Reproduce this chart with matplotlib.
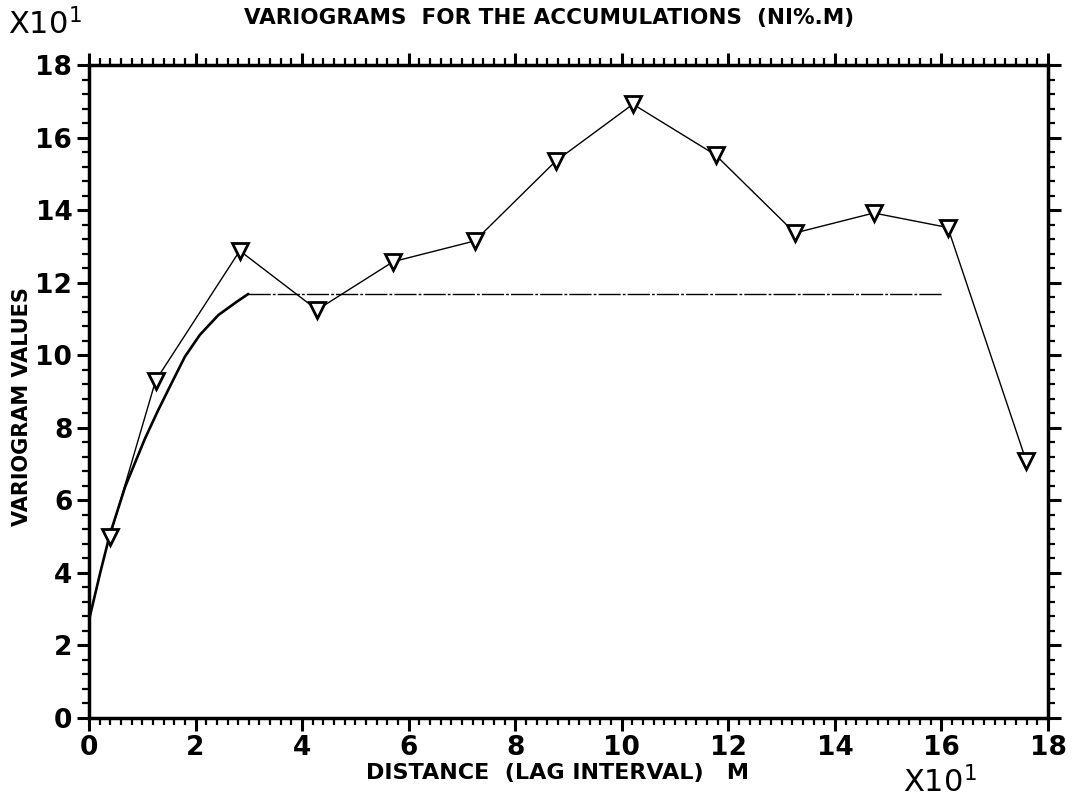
import matplotlib
matplotlib.use('Agg')
import matplotlib.pyplot as plt
from matplotlib.ticker import MultipleLocator

# Experimental variogram (units of x10)
lag = [0.39, 1.25, 2.83, 4.28, 5.71, 7.24, 8.76, 10.21, 11.76, 13.25, 14.73, 16.12, 17.59]
gamma = [4.99, 9.30, 12.88, 11.25, 12.58, 13.15, 15.35, 16.92, 15.52, 13.37, 13.92, 13.52, 7.09]

# Fitted model curve
model_x = [0.0, 0.21, 0.39, 0.68, 1.05, 1.30, 1.55, 1.80, 2.08, 2.43, 2.77, 2.99]
model_y = [2.70, 4.00, 5.05, 6.38, 7.70, 8.49, 9.23, 9.96, 10.56, 11.11, 11.47, 11.69]

# Sill
sill_x = [2.99, 16.02]
sill_y = [11.69, 11.69]

plt.rcParams['font.family'] = ['DejaVu Sans']
plt.rcParams['mathtext.default'] = 'regular'

fig = plt.figure(figsize=(10.79, 7.99), dpi=100)
ax = fig.add_axes([89/1079, 1-718/799, (1048-89)/1079, (718-65)/799])

ax.plot(model_x, model_y, color='black', lw=1.9, solid_capstyle='round',
        solid_joinstyle='round')
ax.plot(sill_x, sill_y, color='black', lw=1.0, linestyle=(0, (16, 1.5, 2, 1.5)))
ax.plot(lag, gamma, color='black', lw=1.0, marker='v', markersize=11,
        markerfacecolor='white', markeredgecolor='black', markeredgewidth=2.0)

ax.set_xlim(0, 18)
ax.set_ylim(0, 18)
ax.xaxis.set_major_locator(MultipleLocator(2))
ax.xaxis.set_minor_locator(MultipleLocator(0.2))
ax.yaxis.set_major_locator(MultipleLocator(2))
ax.yaxis.set_minor_locator(MultipleLocator(0.4))
ax.tick_params(which='both', direction='out', top=True, right=True,
               labeltop=False, labelright=False)
ax.tick_params(which='major', length=9, width=2.2, labelsize=19, pad=3)
ax.tick_params(which='minor', length=5, width=1.6)
for lab in ax.get_xticklabels() + ax.get_yticklabels():
    lab.set_fontweight('bold')
for sp in ax.spines.values():
    sp.set_linewidth(2.5)

fig.text(549/1079, 1-18/799, 'VARIOGRAMS  FOR THE ACCUMULATIONS  (NI%.M)',
         ha='center', va='center', fontsize=15.5, fontweight='bold')
fig.text(557/1079, 1-773/799, 'DISTANCE  (LAG INTERVAL)   M',
         ha='center', va='center', fontsize=16, fontweight='bold')
fig.text(22/1079, 1-407/799, 'VARIOGRAM VALUES', rotation=90,
         ha='center', va='center', fontsize=15, fontweight='bold')
fig.text(8/1079, 1-24/799, 'X10$^{1}$', ha='left', va='center', fontsize=22)
fig.text(903/1079, 1-782/799, 'X10$^{1}$', ha='left', va='center', fontsize=22)

fig.savefig('out.png', dpi=100)
